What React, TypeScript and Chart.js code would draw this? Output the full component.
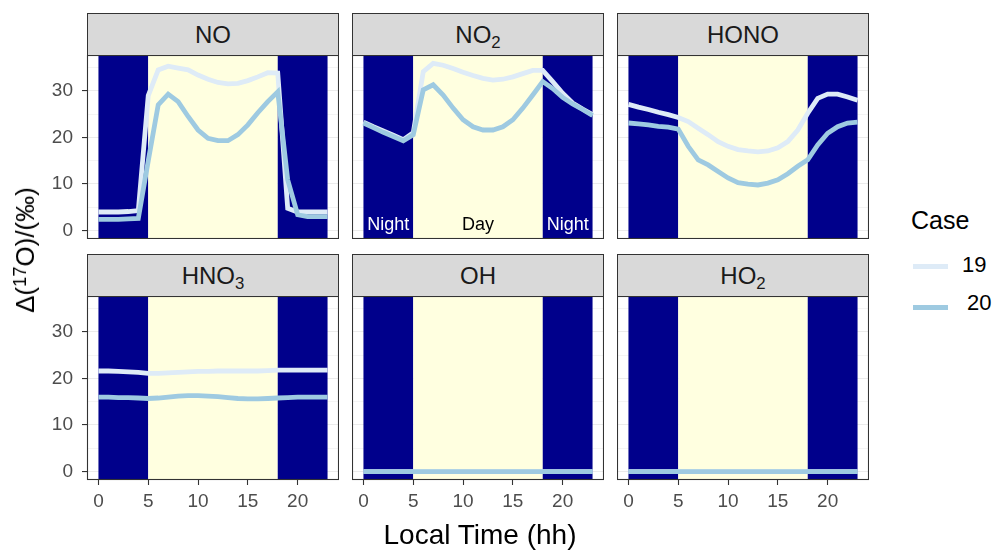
import React, { useEffect, useRef } from "react";
import { Chart, registerables } from "chart.js";

Chart.register(...registerables);

const FONT = '"Liberation Sans", Arial, Helvetica, sans-serif';

// ---------- data ----------
const hours = [0, 1, 2, 3, 4, 5, 6, 7, 8, 9, 10, 11, 12, 13, 14, 15, 16, 17, 18, 19, 20, 21, 22, 23];
const xTicks = [0, 5, 10, 15, 20];
const yTicks = [0, 5, 10, 15, 20, 25, 30, 35];
const caseLabels = ["19", "20"];

const no19 = [4.0, 4.0, 4.0, 4.1, 4.3, 29.0, 34.5, 35.3, 34.9, 34.5, 33.4, 32.5, 31.8, 31.5, 31.6, 32.2, 33.0, 33.9, 33.8, 4.8, 4.0, 4.0, 4.0, 4.0];
const no20 = [2.4, 2.4, 2.4, 2.5, 2.6, 15.0, 27.0, 29.3, 27.7, 24.5, 21.6, 19.8, 19.3, 19.3, 20.6, 22.7, 25.3, 27.7, 29.8, 10.9, 3.4, 3.0, 3.0, 3.0];

const no2_19 = [23.3, 22.3, 21.4, 20.5, 19.5, 21.0, 34.1, 35.9, 35.5, 34.8, 34.0, 33.3, 32.7, 32.3, 32.5, 33.0, 33.7, 34.4, 34.4, 32.0, 29.5, 27.4, 26.1, 24.9];
const no2_20 = [23.1, 22.1, 21.1, 20.2, 19.3, 20.6, 30.2, 31.3, 29.1, 26.3, 23.8, 22.3, 21.6, 21.6, 22.3, 23.8, 26.3, 29.1, 32.0, 30.5, 28.6, 27.2, 26.0, 24.7];

const hono19 = [27.1, 26.5, 26.0, 25.4, 24.9, 24.3, 23.4, 22.0, 20.6, 19.1, 18.1, 17.4, 17.1, 16.9, 17.1, 17.8, 19.1, 21.6, 25.2, 28.4, 29.3, 29.3, 28.7, 28.0];
const hono20 = [23.1, 22.9, 22.7, 22.4, 22.2, 21.8, 18.1, 15.2, 14.1, 12.7, 11.3, 10.3, 10.0, 9.8, 10.2, 10.9, 12.2, 13.8, 15.2, 18.4, 20.9, 22.3, 23.1, 23.3];

const hno3_19 = [21.6, 21.6, 21.5, 21.4, 21.3, 21.1, 21.1, 21.2, 21.3, 21.4, 21.5, 21.5, 21.6, 21.6, 21.6, 21.6, 21.6, 21.7, 21.8, 21.8, 21.8, 21.8, 21.8, 21.8];
const hno3_20 = [16.0, 16.0, 15.9, 15.9, 15.8, 15.7, 15.8, 16.0, 16.2, 16.3, 16.3, 16.2, 16.1, 15.9, 15.7, 15.6, 15.6, 15.7, 15.8, 15.9, 16.0, 16.0, 16.0, 16.0];

const oh19 = [0, 0, 0, 0, 0, 0, 0, 0, 0, 0, 0, 0, 0, 0, 0, 0, 0, 0, 0, 0, 0, 0, 0, 0];
const oh20 = [0, 0, 0, 0, 0, 0, 0, 0, 0, 0, 0, 0, 0, 0, 0, 0, 0, 0, 0, 0, 0, 0, 0, 0];
const ho2_19 = [0, 0, 0, 0, 0, 0, 0, 0, 0, 0, 0, 0, 0, 0, 0, 0, 0, 0, 0, 0, 0, 0, 0, 0];
const ho2_20 = [0, 0, 0, 0, 0, 0, 0, 0, 0, 0, 0, 0, 0, 0, 0, 0, 0, 0, 0, 0, 0, 0, 0, 0];

// day / night periods (hours)
const periodStart = [0, 5, 18];
const periodEnd = [5, 18, 23];
const periodKind = ["night", "day", "night"];

// annotation texts in the NO2 panel
const annotHour = [2.5, 11.5, 20.5];
const annotText = ["Night", "Day", "Night"];
const annotValue = 1.2;

// ---------- style ----------
const X_MIN = -1.15;
const X_MAX = 24.15;
const Y_MIN = -1.8;
const Y_MAX = 37.7;
const NIGHT = "#00008B";
const DAY = "#FFFFE0";
const caseColors = ["#DEEBF7", "#9ECAE1"];

const colX = [87, 352, 617];
const stripTop = [13, 254];
const plotTop = [55, 296];
const PW = 252;
const PH = 184;
const SH = 42;
const Y_AXIS_W = 87;
const X_AXIS_H = 45;

type PanelDef = {
  key: string;
  title: React.ReactNode;
  col: number;
  row: number;
  s19: number[];
  s20: number[];
};

const subStyle: React.CSSProperties = { fontSize: "0.7em", verticalAlign: "-0.3em", lineHeight: 0 };

const panels: PanelDef[] = [
  { key: "NO", title: "NO", col: 0, row: 0, s19: no19, s20: no20 },
  { key: "NO2", title: <>NO<sub style={subStyle}>2</sub></>, col: 1, row: 0, s19: no2_19, s20: no2_20 },
  { key: "HONO", title: "HONO", col: 2, row: 0, s19: hono19, s20: hono20 },
  { key: "HNO3", title: <>HNO<sub style={subStyle}>3</sub></>, col: 0, row: 1, s19: hno3_19, s20: hno3_20 },
  { key: "OH", title: "OH", col: 1, row: 1, s19: oh19, s20: oh20 },
  { key: "HO2", title: <>HO<sub style={subStyle}>2</sub></>, col: 2, row: 1, s19: ho2_19, s20: ho2_20 },
];

const panelPlugin = {
  id: "panelDecor",
  beforeDatasetsDraw(chart: any) {
    const { ctx, chartArea: a } = chart;
    const x = chart.scales.x;
    ctx.save();
    ctx.beginPath();
    ctx.rect(a.left, a.top, a.right - a.left, a.bottom - a.top);
    ctx.clip();
    periodStart.forEach((s, i) => {
      const x0 = x.getPixelForValue(s);
      const x1 = x.getPixelForValue(periodEnd[i]);
      ctx.fillStyle = periodKind[i] === "night" ? NIGHT : DAY;
      ctx.fillRect(x0, a.top, x1 - x0, a.bottom - a.top);
    });
    ctx.restore();
  },
  afterDatasetsDraw(chart: any, _args: any, opts: any) {
    if (!opts || !opts.annotate) return;
    const { ctx } = chart;
    const x = chart.scales.x;
    const y = chart.scales.y;
    ctx.save();
    ctx.font = `18px ${FONT}`;
    ctx.textAlign = "center";
    ctx.textBaseline = "middle";
    annotText.forEach((t, i) => {
      ctx.fillStyle = periodKind[i] === "night" ? "#FFFFFF" : "#000000";
      ctx.fillText(t, x.getPixelForValue(annotHour[i]), y.getPixelForValue(annotValue));
    });
    ctx.restore();
  },
  afterDraw(chart: any) {
    const { ctx, chartArea: a } = chart;
    ctx.save();
    ctx.strokeStyle = "#333333";
    ctx.lineWidth = 1.1;
    ctx.strokeRect(a.left + 0.5, a.top + 0.5, a.right - a.left - 1, a.bottom - a.top - 1);
    ctx.restore();
  },
};

function Panel({ p }: { p: PanelDef }) {
  const ref = useRef<HTMLCanvasElement>(null);
  const showY = p.col === 0;
  const showX = p.row === 1;
  const extraL = showY ? Y_AXIS_W : 0;
  const extraB = showX ? X_AXIS_H : 0;
  const w = PW + extraL;
  const h = PH + extraB;

  useEffect(() => {
    const mk = (vals: number[]) => hours.map((hh, i) => ({ x: hh, y: vals[i] }));
    const chart = new Chart(ref.current as HTMLCanvasElement, {
      type: "line",
      data: {
        datasets: [
          { label: caseLabels[0], data: mk(p.s19), borderColor: caseColors[0], backgroundColor: caseColors[0], borderWidth: 4.8, pointRadius: 0, tension: 0, fill: false, order: 2 },
          { label: caseLabels[1], data: mk(p.s20), borderColor: caseColors[1], backgroundColor: caseColors[1], borderWidth: 4.8, pointRadius: 0, tension: 0, fill: false, order: 1 },
        ],
      },
      options: {
        animation: false,
        responsive: false,
        devicePixelRatio: 1,
        events: [],
        layout: { padding: 0 },
        plugins: {
          legend: { display: false },
          tooltip: { enabled: false },
          title: { display: false },
          panelDecor: { annotate: p.key === "NO2" },
        } as any,
        scales: {
          x: {
            type: "linear",
            min: X_MIN,
            max: X_MAX,
            afterBuildTicks: (s: any) => {
              s.ticks = xTicks.map((v) => ({ value: v }));
            },
            afterFit: (s: any) => {
              s.height = extraB;
              s.paddingLeft = 0;
              s.paddingRight = 0;
              s.paddingTop = 0;
              s.paddingBottom = 0;
            },
            border: { display: false },
            grid: { drawOnChartArea: false, drawTicks: showX, tickLength: 5, tickColor: "#333333", tickWidth: 1.1 },
            ticks: {
              display: showX,
              autoSkip: false,
              maxRotation: 0,
              padding: 5,
              color: "#4D4D4D",
              font: { family: FONT, size: 19 },
              callback: (v: any) => String(v),
            },
          },
          y: {
            type: "linear",
            min: Y_MIN,
            max: Y_MAX,
            afterBuildTicks: (s: any) => {
              s.ticks = yTicks.map((v) => ({ value: v }));
            },
            afterFit: (s: any) => {
              s.width = extraL;
              s.paddingLeft = 0;
              s.paddingRight = 0;
              s.paddingTop = 0;
              s.paddingBottom = 0;
            },
            border: { display: false },
            grid: {
              color: "#EBEBEB",
              lineWidth: (c: any) => (c.tick && c.tick.value % 10 === 0 ? 1.1 : 0.55),
              drawTicks: showY,
              tickLength: 5,
              tickWidth: 1.1,
              tickColor: (c: any) => (c.tick && c.tick.value % 10 === 0 ? "#333333" : "rgba(0,0,0,0)"),
            },
            ticks: {
              display: showY,
              autoSkip: false,
              padding: 9,
              color: "#4D4D4D",
              font: { family: FONT, size: 19 },
              callback: (v: any) => (Number(v) % 10 === 0 ? String(v) : ""),
            },
          },
        },
      } as any,
      plugins: [panelPlugin as any],
    });
    return () => chart.destroy();
  }, []);

  return (
    <>
      <div
        style={{
          position: "absolute",
          left: colX[p.col],
          top: stripTop[p.row],
          width: PW,
          height: SH + 1,
          boxSizing: "border-box",
          background: "#D9D9D9",
          border: "1.1px solid #333333",
          display: "flex",
          alignItems: "center",
          justifyContent: "center",
          fontFamily: FONT,
          fontSize: 24,
          color: "#1A1A1A",
          lineHeight: 1,
        }}
      >
        <span>{p.title}</span>
      </div>
      <canvas
        ref={ref}
        width={w}
        height={h}
        style={{ position: "absolute", left: colX[p.col] - extraL, top: plotTop[p.row], width: w, height: h }}
      />
    </>
  );
}

export default function App() {
  return (
    <div style={{ position: "absolute", left: 0, top: 0, width: 993, height: 553, background: "#FFFFFF", overflow: "hidden", fontFamily: FONT }}>
      {panels.map((p) => (
        <Panel key={p.key} p={p} />
      ))}
      {/* y axis title */}
      <div
        style={{
          position: "absolute",
          left: 25,
          top: 250,
          transform: "translate(-50%, -50%) rotate(-90deg)",
          whiteSpace: "nowrap",
          fontSize: 26,
          lineHeight: 1,
          color: "#000000",
        }}
      >
        Δ(<sup style={{ fontSize: "0.7em", verticalAlign: "0.45em", lineHeight: 0 }}>17</sup>O)/(‰)
      </div>
      {/* x axis title */}
      <div
        style={{
          position: "absolute",
          left: 480,
          top: 521,
          transform: "translateX(-50%)",
          whiteSpace: "nowrap",
          fontSize: 28,
          lineHeight: 1,
          color: "#000000",
        }}
      >
        Local Time (hh)
      </div>
      {/* legend */}
      <div style={{ position: "absolute", left: 911, top: 208, fontSize: 25, lineHeight: 1, color: "#000000" }}>Case</div>
      <div style={{ position: "absolute", left: 913, top: 264, width: 35, height: 5, background: caseColors[0] }} />
      <div style={{ position: "absolute", left: 962, top: 254, fontSize: 22, lineHeight: 1, color: "#000000" }}>{caseLabels[0]}</div>
      <div style={{ position: "absolute", left: 913, top: 305, width: 35, height: 5, background: caseColors[1] }} />
      <div style={{ position: "absolute", left: 967, top: 292, fontSize: 22, lineHeight: 1, color: "#000000" }}>{caseLabels[1]}</div>
    </div>
  );
}
